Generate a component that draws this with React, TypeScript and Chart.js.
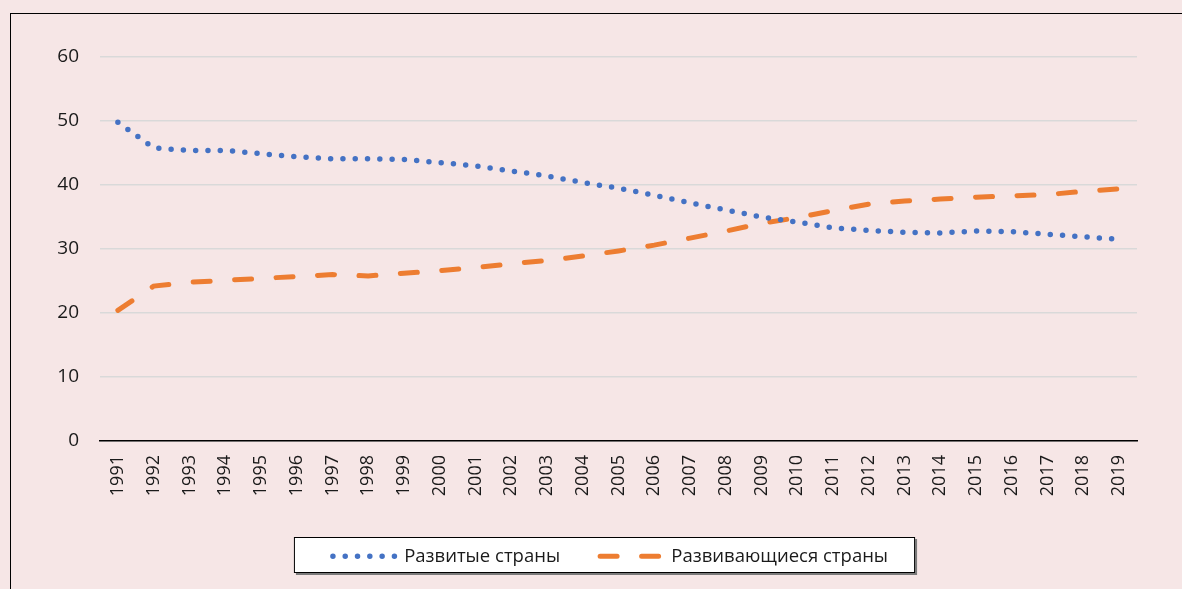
import React, { useEffect, useRef } from "react";
import { Chart, registerables } from "chart.js";

Chart.register(...registerables);

const years = [
  "1991", "1992", "1993", "1994", "1995", "1996", "1997", "1998", "1999", "2000",
  "2001", "2002", "2003", "2004", "2005", "2006", "2007", "2008", "2009", "2010",
  "2011", "2012", "2013", "2014", "2015", "2016", "2017", "2018", "2019",
];

const developed = [
  49.8, 45.8, 45.4, 45.4, 44.9, 44.4, 44.1, 44.1, 44.0, 43.5,
  43.0, 42.2, 41.4, 40.4, 39.5, 38.4, 37.2, 36.1, 35.0, 34.2,
  33.3, 32.9, 32.6, 32.5, 32.8, 32.7, 32.3, 31.9, 31.5,
];

const developing = [
  20.4, 24.2, 24.8, 25.1, 25.4, 25.7, 26.0, 25.8, 26.2, 26.6,
  27.1, 27.7, 28.2, 28.9, 29.7, 30.6, 31.7, 32.8, 34.0, 34.9,
  36.0, 37.0, 37.5, 37.8, 38.1, 38.3, 38.5, 39.0, 39.4,
];

const seriesNames = ["Развитые страны", "Развивающиеся страны"];

const BG = "#F6E6E6";
const TEXT = "#1a1a1a";
const LEGEND_FONT = 18.5;
const SAMPLE_W = 62;

const legendFramePlugin = {
  id: "legendFrame",
  afterLayout(chart: any) {
    const lg = chart.legend;
    if (!lg) return;
    const c = (lg.left + lg.right) / 2;
    const d = 610.5 - c;
    lg.left += d;
    lg.right += d;
    const pad = lg.options.labels.padding;
    const h = lg.bottom - lg.top;
    lg.top = 547 - pad;
    lg.bottom = lg.top + h;
  },
  beforeDraw(chart: any) {
    const lg = chart.legend;
    if (!lg || !lg.legendHitBoxes || !lg.legendHitBoxes.length) return;
    const hb = lg.legendHitBoxes;
    const first = hb[0];
    const last = hb[hb.length - 1];
    const left = first.left - 39;
    const right = last.left + last.width + 27;
    const top = first.top - 10;
    const bottom = first.top + 26;
    const ctx = chart.ctx;
    ctx.save();
    ctx.fillStyle = "#7a7a7a";
    ctx.fillRect(left + 2, top + 2, right - left, bottom - top);
    ctx.fillStyle = "#ffffff";
    ctx.fillRect(left, top, right - left, bottom - top);
    ctx.strokeStyle = "#000000";
    ctx.lineWidth = 1;
    ctx.strokeRect(left + 0.5, top + 0.5, right - left - 1, bottom - top - 1);
    ctx.restore();
  },
  afterDraw(chart: any) {
    const lg = chart.legend;
    if (!lg || !lg.legendHitBoxes) return;
    const ctx = chart.ctx;
    lg.legendHitBoxes.forEach((hb: any, i: number) => {
      const ds: any = chart.data.datasets[i];
      const y = hb.top + LEGEND_FONT / 2;
      ctx.save();
      ctx.strokeStyle = ds.borderColor;
      ctx.lineWidth = ds.borderWidth;
      ctx.lineCap = "round";
      ctx.setLineDash(ds.borderDash);
      ctx.beginPath();
      ctx.moveTo(hb.left, y);
      ctx.lineTo(hb.left + SAMPLE_W, y);
      ctx.stroke();
      ctx.restore();
    });
  },
};

export default function App() {
  const ref = useRef<HTMLCanvasElement | null>(null);

  useEffect(() => {
    if (!ref.current) return;
    const chart = new Chart(ref.current, {
      type: "line",
      data: {
        labels: years,
        datasets: [
          {
            label: seriesNames[0],
            data: developed,
            borderColor: "#4472C4",
            backgroundColor: "#4472C4",
            borderWidth: 5.5,
            borderDash: [0, 12.3],
            borderCapStyle: "round",
            pointRadius: 0,
            tension: 0,
            fill: false,
          },
          {
            label: seriesNames[1],
            data: developing,
            borderColor: "#ED7D31",
            backgroundColor: "#ED7D31",
            borderWidth: 5,
            borderDash: [17, 24.5],
            borderCapStyle: "round",
            pointRadius: 0,
            tension: 0,
            fill: false,
          },
        ],
      },
      options: {
        animation: false,
        responsive: false,
        maintainAspectRatio: false,
        layout: { padding: { top: 57, right: 45, bottom: 13.5, left: 0 } },
        plugins: {
          tooltip: { enabled: false },
          legend: {
            display: true,
            position: "bottom",
            labels: {
              usePointStyle: true,
              pointStyle: "line",
              pointStyleWidth: SAMPLE_W,
              padding: 40,
              color: TEXT,
              font: { family: "'Open Sans'", size: LEGEND_FONT },
              generateLabels(chart: any) {
                const base = (Chart as any).defaults.plugins.legend.labels.generateLabels(chart);
                return base.map((l: any) => ({
                  ...l,
                  strokeStyle: "rgba(0,0,0,0)",
                  fillStyle: "rgba(0,0,0,0)",
                  lineWidth: 0,
                }));
              },
            },
          },
        },
        scales: {
          x: {
            type: "category",
            offset: true,
            grid: { display: false, drawTicks: false },
            border: { display: true, color: "#000000", width: 1.5 },
            ticks: {
              minRotation: 90,
              maxRotation: 90,
              autoSkip: false,
              padding: 14,
              color: TEXT,
              font: { family: "'Open Sans'", size: 18 },
            },
            afterFit(scale: any) {
              scale.height = 66;
            },
          },
          y: {
            min: 0,
            max: 60,
            grid: { color: "#D9D9D9", lineWidth: 1.5, drawTicks: false },
            border: { display: false },
            ticks: {
              stepSize: 10,
              padding: 21,
              color: TEXT,
              font: { family: "'Open Sans'", size: 19 },
            },
            afterFit(scale: any) {
              scale.width = 100;
            },
          },
        },
      },
      plugins: [legendFramePlugin],
    });
    return () => chart.destroy();
  }, []);

  return (
    <div
      style={{
        position: "fixed",
        left: 0,
        top: 0,
        width: 1182,
        height: 589,
        overflow: "hidden",
        background: BG,
      }}
    >
      <div
        style={{
          position: "absolute",
          left: 10,
          top: 13,
          width: 1400,
          height: 800,
          border: "1px solid #000",
        }}
      />
      <canvas
        ref={ref}
        width={1182}
        height={589}
        style={{ position: "absolute", left: 0, top: 0, width: 1182, height: 589 }}
      />
    </div>
  );
}
